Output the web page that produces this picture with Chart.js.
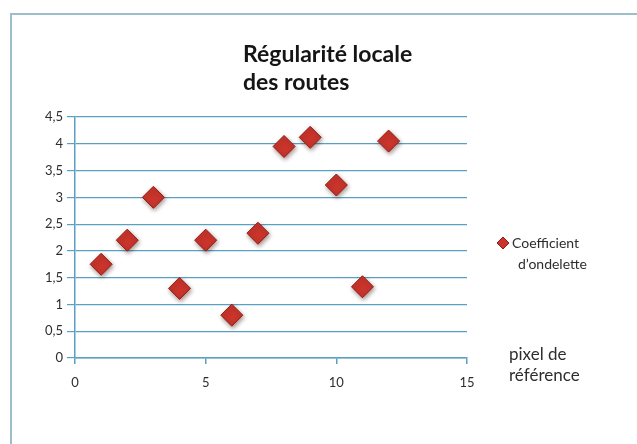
<!DOCTYPE html>
<html>
<head>
<meta charset="utf-8">
<script src="https://cdn.jsdelivr.net/npm/chart.js@4/dist/chart.umd.min.js"></script>
<style>
  html, body { margin: 0; padding: 0; background: #fff; }
  #wrap { width: 637px; height: 444px; }
</style>
</head>
<body>
<div id="wrap"><canvas id="chart" width="637" height="444"></canvas></div>
<script>
  // Wavelet coefficient per reference pixel
  const pixels = [1, 2, 3, 4, 5, 6, 7, 8, 9, 10, 11, 12];
  const coefficients = [1.75, 2.2, 3.0, 1.3, 2.2, 0.8, 2.33, 3.95, 4.12, 3.23, 1.33, 4.05];

  const xTickLabels = ['0', '5', '10', '15'];
  const yTickLabels = ['0', '0,5', '1', '1,5', '2', '2,5', '3', '3,5', '4', '4,5'];

  const titleLines = ['Régularité locale', 'des routes'];
  const seriesName = ['Coefficient', 'd\u2019ondelette'];
  const axisName = ['pixel de', 'référence'];

  const GRID = '#5aa0c2';
  const TEXT = '#2e2e2e';
  const FONT = 'Lato, "Open Sans", sans-serif';

  // white sheet with a thin frame on top and left
  const framePlugin = {
    id: 'frame',
    beforeDraw(chart) {
      const c = chart.ctx;
      c.save();
      c.fillStyle = '#ffffff';
      c.fillRect(0, 0, chart.width, chart.height);
      c.strokeStyle = '#9dbdcb';
      c.lineWidth = 2;
      c.beginPath();
      c.moveTo(11, chart.height);
      c.lineTo(11, 14);
      c.lineTo(chart.width, 14);
      c.stroke();
      c.restore();
    }
  };

  // title, legend and axis caption are placed freely, like the office chart
  const textPlugin = {
    id: 'freeText',
    afterDraw(chart) {
      const c = chart.ctx;
      c.save();
      c.fillStyle = '#151515';
      c.textAlign = 'left';
      c.textBaseline = 'alphabetic';
      c.font = 'bold 23px ' + FONT;
      c.fillText(titleLines[0], 243, 62);
      c.fillText(titleLines[1], 243, 90);

      c.fillStyle = TEXT;
      c.font = '14px ' + FONT;
      c.fillText(seriesName[0], 512, 248);
      c.fillText(seriesName[1], 518, 269);

      // legend marker
      c.beginPath();
      c.moveTo(503, 237);
      c.lineTo(509, 243);
      c.lineTo(503, 249);
      c.lineTo(497, 243);
      c.closePath();
      c.fillStyle = '#c9342b';
      c.fill();
      c.strokeStyle = '#8e1f18';
      c.lineWidth = 1;
      c.stroke();

      c.fillStyle = TEXT;
      c.font = '17px ' + FONT;
      c.fillText(axisName[0], 509, 360);
      c.fillText(axisName[1], 509, 381);
      c.restore();
    }
  };

  // soft drop shadow under the diamonds
  const shadowPlugin = {
    id: 'markerShadow',
    beforeDatasetDraw(chart) {
      const c = chart.ctx;
      c.save();
      c.shadowColor = 'rgba(60, 20, 10, 0.45)';
      c.shadowBlur = 4;
      c.shadowOffsetX = 1;
      c.shadowOffsetY = 2;
    },
    afterDatasetDraw(chart) {
      chart.ctx.restore();
    }
  };

  new Chart(document.getElementById('chart'), {
    type: 'scatter',
    data: {
      datasets: [{
        label: seriesName.join(' '),
        data: pixels.map((p, i) => ({ x: p, y: coefficients[i] })),
        pointStyle: 'rectRot',
        pointRadius: 11,
        pointHoverRadius: 11,
        backgroundColor: '#c9342b',
        borderColor: '#8e1f18',
        borderWidth: 1,
        clip: false
      }]
    },
    options: {
      responsive: false,
      animation: false,
      layout: { padding: { left: 0, right: 170, top: 117, bottom: 46 } },
      plugins: {
        legend: { display: false },
        title: { display: false },
        tooltip: { enabled: false }
      },
      scales: {
        x: {
          type: 'linear',
          min: 0,
          max: 15,
          afterFit(scale) { scale.height = 40; },
          border: { color: GRID, width: 1.5 },
          grid: { drawOnChartArea: false, drawTicks: true, tickLength: 6, color: GRID, lineWidth: 1.5 },
          ticks: {
            stepSize: 5,
            padding: 11,
            maxRotation: 0,
            color: TEXT,
            font: { family: FONT, size: 13 },
            callback: (v, i) => xTickLabels[i]
          }
        },
        y: {
          min: 0,
          max: 4.5,
          afterFit(scale) { scale.width = 75; },
          border: { color: GRID, width: 1.5 },
          grid: { color: GRID, lineWidth: 1.2, tickLength: 8 },
          ticks: {
            stepSize: 0.5,
            padding: 4,
            color: TEXT,
            font: { family: FONT, size: 13 },
            callback: (v, i) => yTickLabels[i]
          }
        }
      }
    },
    plugins: [framePlugin, shadowPlugin, textPlugin]
  });
</script>
</body>
</html>
